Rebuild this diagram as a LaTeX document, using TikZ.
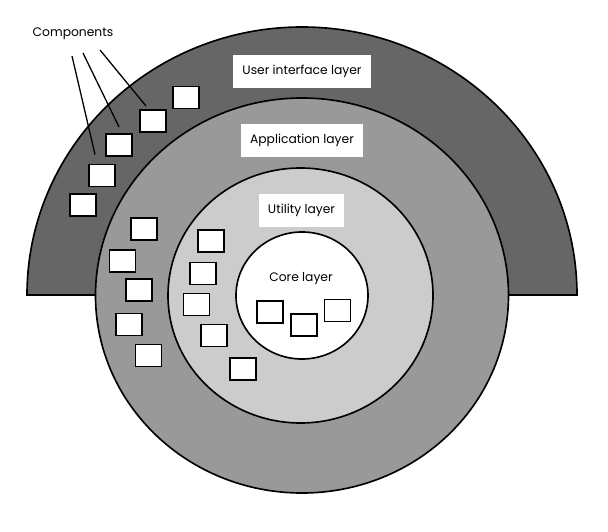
\documentclass[tikz,border=0pt]{standalone}
\usepackage{fontspec}
\setmainfont{Poppins}
\usepackage{tikz}
\definecolor{uigray}{HTML}{666666}
\definecolor{appgray}{HTML}{999999}
\definecolor{utilgray}{HTML}{CCCCCC}
\tikzset{
  ring/.style={draw=black,line width=1.4pt},
  comp/.style={draw=black,fill=white,line width=1.4pt,minimum width=0.79cm,minimum height=0.67cm,inner sep=0pt},
  layerlabel/.style={fill=white,inner xsep=0.27cm,minimum height=1cm,font=\fontsize{10.5}{12}\selectfont}
}

\begin{document}
\begin{tikzpicture}[x=0.03cm,y=-0.03cm]
  \useasboundingbox (0,0) rectangle (608,532);
  % layers
  \filldraw[ring,fill=uigray] (27,295) arc[start angle=180,end angle=360,x radius=275,y radius=268] -- cycle;
  \filldraw[ring,fill=appgray] (302,295.5) ellipse[x radius=206.5,y radius=197.5];
  \filldraw[ring,fill=utilgray] (300.5,295.5) ellipse[x radius=132.5,y radius=127.5];
  \filldraw[ring,fill=white] (302,295.5) ellipse[x radius=66,y radius=63.5];
  % labels
  \node[layerlabel] (ui) at (302,71.5) {User interface layer};
  \node[layerlabel] (app) at (302,140.5) {Application layer};
  \node[layerlabel] (util) at (301.5,210.5) {Utility layer};
  \node[font=\fontsize{10.5}{12}\selectfont] (core) at (301,279) {Core layer};
  \node[font=\fontsize{10.5}{12}\selectfont] (comps) at (73,34) {Components};
  % components, user interface layer
  \node[comp] (ua) at (186,97.5) {};
  \node[comp] (ub) at (153,121) {};
  \node[comp] (uc) at (119,145) {};
  \node[comp] (ud) at (102,175.5) {};
  \node[comp] (ue) at (83,205) {};
  % components, application layer
  \node[comp] (aa) at (144,229) {};
  \node[comp] (ab) at (122.5,261) {};
  \node[comp] (ac) at (139,290) {};
  \node[comp] (ad) at (129,324.5) {};
  \node[comp] (ae) at (148.5,355.5) {};
  % components, utility layer
  \node[comp] (ta) at (211,241) {};
  \node[comp] (tb) at (203,273.5) {};
  \node[comp] (tc) at (196.5,304.5) {};
  \node[comp] (td) at (214,335.5) {};
  \node[comp] (te) at (243,369) {};
  % components, core layer
  \node[comp] (ca) at (270,312) {};
  \node[comp] (cb) at (304,325) {};
  \node[comp] (cc) at (337.5,310.5) {};
  % leader lines
  \coordinate (lead1) at (72,56);
  \coordinate (lead2) at (83,53);
  \coordinate (lead3) at (100,50);
  \draw[line width=1.1pt] (lead1) -- ([shift={(7,-9)}]ud.north west);
  \draw[line width=1.1pt] (lead2) -- ([shift={(14,-6)}]uc.north west);
  \draw[line width=1.1pt] (lead3) -- ([shift={(7,-3)}]ub.north west);
\end{tikzpicture}
\end{document}
